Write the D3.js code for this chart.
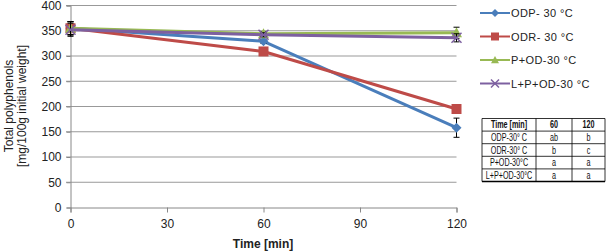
<!DOCTYPE html>
<html>
<head>
<meta charset="utf-8">
<script src="https://cdn.jsdelivr.net/npm/d3@7"></script>
<style>
  body { margin: 0; background: #fff; }
  svg { display: block; font-family: "Liberation Sans", Arial, sans-serif; }
</style>
</head>
<body>
<svg id="chart" width="608" height="252"></svg>
<script>
const times = [0, 60, 120]
const seriesNames = ['ODP- 30 °C', 'ODR- 30 °C', 'P+OD-30 °C', 'L+P+OD-30 °C']
const odpValues = [355, 329, 158]
const odrValues = [355, 309, 195]
const podValues = [355, 344, 346]
const lpodValues = [352, 342, 336]
const odpErrors = [13, 4, 19]
const odrErrors = [13, 4, 5]
const podErrors = [13, 4, 11]
const lpodErrors = [13, 4, 8]
const xTicks = [0, 30, 60, 90, 120]
const yTicks = [0, 50, 100, 150, 200, 250, 300, 350, 400]
const tableHeader = ['Time [min]', '60', '120']
const tableRows = [
  ['ODP-30° C', 'ab', 'b'],
  ['ODR-30° C', 'b', 'c'],
  ['P+OD-30°C', 'a', 'a'],
  ['L+P+OD-30°C', 'a', 'a']
]

const colors = ['#4a7ebb', '#be4b48', '#98b954', '#7d60a0']
const markers = ['diamond', 'square', 'triangle', 'cross']
const errs = [odpErrors, odrErrors, podErrors, lpodErrors]
const series = [odpValues, odrValues, podValues, lpodValues].map((values, i) => ({
  name: seriesNames[i],
  color: colors[i],
  marker: markers[i],
  points: times.map((t, j) => ({t, v: values[j], e: errs[i][j]}))
}))

const svg = d3.select('#chart')
const x = d3.scaleLinear().domain([0, 120]).range([70.5, 456.5])
const y = d3.scaleLinear().domain([0, 400]).range([207.5, 5.5])

// grid
svg.append('g').selectAll('line').data(yTicks.filter(d => d > 0)).join('line')
  .attr('x1', 66).attr('x2', x(120)).attr('y1', y).attr('y2', y)
  .attr('stroke', '#999').attr('stroke-width', 1)

const yAxis = svg.append('g').attr('transform', `translate(${x(0)},0)`)
  .call(d3.axisLeft(y).tickValues(yTicks).tickSize(4).tickPadding(5))
yAxis.select('.domain').attr('stroke', '#888')
yAxis.selectAll('.tick line').attr('stroke', '#888')
yAxis.selectAll('text').attr('font-size', 12).attr('fill', '#222').attr('font-family', '"Liberation Sans", Arial, sans-serif')

const xAxis = svg.append('g').attr('transform', `translate(0,${y(0)})`)
  .call(d3.axisBottom(x).tickValues(xTicks).tickSize(5).tickPadding(7))
xAxis.select('.domain').attr('stroke', '#888')
xAxis.selectAll('.tick line').attr('stroke', '#888')
xAxis.selectAll('text').attr('font-size', 12).attr('fill', '#222').attr('font-family', '"Liberation Sans", Arial, sans-serif')

svg.append('text').attr('x', 263).attr('y', 248).attr('text-anchor', 'middle')
  .attr('font-size', 12).attr('font-weight', 'bold').attr('fill', '#222').text('Time [min]')

const yTitle = svg.append('text').attr('transform', 'translate(0,106) rotate(-90)')
  .attr('text-anchor', 'middle').attr('font-size', 12).attr('fill', '#222')
yTitle.append('tspan').attr('x', 0).attr('y', 13).text('Total polyphenols')
yTitle.append('tspan').attr('x', 0).attr('y', 26).text('[mg/100g initial weight]')

const markerPath = (type, s) => {
  if (type === 'diamond') return `M0,${-s}L${s},0L0,${s}L${-s},0Z`
  if (type === 'square') return `M${-s},${-s}H${s}V${s}H${-s}Z`
  if (type === 'triangle') return `M0,${-s}L${s},${s * 0.8}L${-s},${s * 0.8}Z`
  return `M${-s},${-s}L${s},${s}M${s},${-s}L${-s},${s}`
}
const drawMarker = (g, d, type, color, s) => {
  g.append('path').attr('d', markerPath(type, s))
    .attr('transform', `translate(${d[0]},${d[1]})`)
    .attr('fill', type === 'cross' ? 'none' : color)
    .attr('stroke', color).attr('stroke-width', type === 'cross' ? 1.5 : 0)
}
const markerSize = {diamond: 5, square: 5, triangle: 5.5, cross: 5}

const line = d3.line().x(d => x(d.t)).y(d => y(d.v))
series.forEach(s => {
  const g = svg.append('g')
  g.append('path').attr('d', line(s.points)).attr('fill', 'none')
    .attr('stroke', s.color).attr('stroke-width', 3).attr('stroke-linejoin', 'round')
  // error bars
  s.points.forEach(p => {
    const cx = x(p.t)
    g.append('path')
      .attr('d', `M${cx},${y(p.v + p.e)}V${y(p.v - p.e)}M${cx - 3},${y(p.v + p.e)}H${cx + 3}M${cx - 3},${y(p.v - p.e)}H${cx + 3}`)
      .attr('stroke', '#000').attr('stroke-width', 1).attr('fill', 'none')
  })
  s.points.forEach(p => drawMarker(g, [x(p.t), y(p.v)], s.marker, s.color, markerSize[s.marker]))
})

// legend
const legend = svg.append('g')
series.forEach((s, i) => {
  const ly = 13 + i * 23.5
  legend.append('line').attr('x1', 480).attr('x2', 510).attr('y1', ly).attr('y2', ly)
    .attr('stroke', s.color).attr('stroke-width', 2)
  drawMarker(legend, [495, ly], s.marker, s.color, 4)
  legend.append('text').attr('x', 511).attr('y', ly + 4).attr('font-size', 11)
    .attr('letter-spacing', 0.4).attr('fill', '#222').text(s.name)
})

// table (condensed text via horizontal scale)
const colX = [482, 536, 572, 605]
const rowH = 12.6
const tableTop = 118.5
const table = svg.append('g')
const allRows = [tableHeader, ...tableRows]
allRows.forEach((row, r) => {
  row.forEach((cell, c) => {
    const cx = (colX[c] + colX[c + 1]) / 2
    table.append('text')
      .attr('transform', `translate(${cx},${tableTop + r * rowH + 9.8}) scale(0.72,1)`)
      .attr('text-anchor', 'middle').attr('font-size', 10)
      .attr('font-weight', r === 0 ? 'bold' : 'normal')
      .attr('fill', '#111').text(cell)
  })
})
d3.range(allRows.length + 1).forEach(r => {
  table.append('line').attr('x1', colX[0]).attr('x2', colX[3])
    .attr('y1', tableTop + r * rowH).attr('y2', tableTop + r * rowH)
    .attr('stroke', '#000').attr('stroke-width', r === allRows.length ? 1.5 : 0.8)
})
colX.forEach(cx => {
  table.append('line').attr('x1', cx).attr('x2', cx)
    .attr('y1', tableTop).attr('y2', tableTop + allRows.length * rowH)
    .attr('stroke', '#000').attr('stroke-width', 0.8)
})
</script>
</body>
</html>
